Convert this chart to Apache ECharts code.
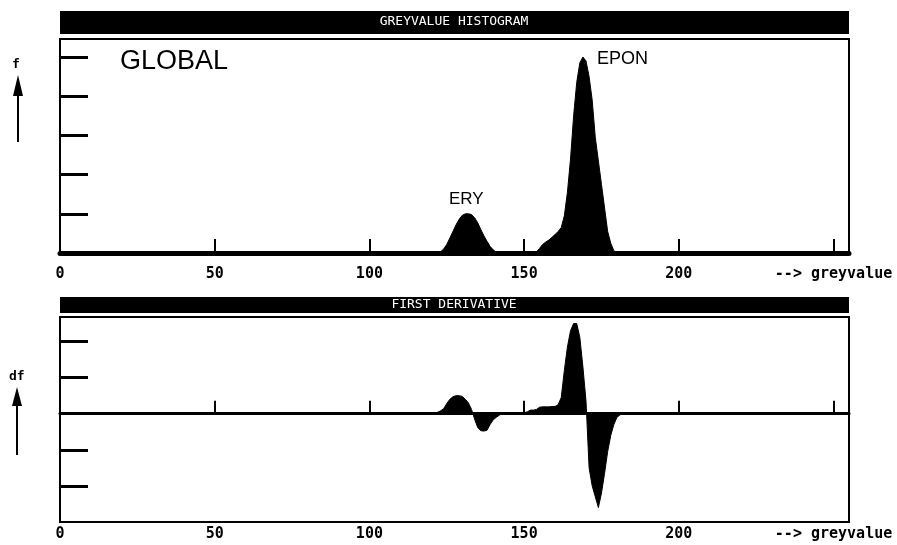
<!DOCTYPE html>
<html>
<head>
<meta charset="utf-8">
<script src="https://cdn.jsdelivr.net/npm/echarts@6/dist/echarts.min.js"></script>
<style>
html, body { margin: 0; padding: 0; background: #fff; }
#main { width: 897px; height: 545px; }
</style>
</head>
<body>
<div id="main"></div>
<script>
// grey values run 0..255, everything outside the listed ranges is zero
var greyMax = 255;
var xTicks = [0, 50, 100, 150, 200, 250];
var histTicks = [1, 2, 3, 4, 5];
var derivTicks = [-2, -1, 1, 2];

// greyvalue histogram, starting at grey value 122
var histStart = 122;
var histCounts = [
    0, 0.03, 0.1, 0.22, 0.38, 0.55, 0.72, 0.86, 0.96, 1.0,      // 122-131
    1.0, 0.98, 0.9, 0.77, 0.6, 0.44, 0.3, 0.17, 0.08, 0.02,     // 132-141
    0, 0, 0, 0, 0, 0, 0, 0, 0, 0,                               // 142-151
    0, 0, 0.03, 0.12, 0.22, 0.28, 0.33, 0.4, 0.47, 0.55,        // 152-161
    0.65, 0.95, 1.55, 2.4, 3.5, 4.35, 4.85, 5.0, 4.9, 4.5,      // 162-171
    3.9, 2.95, 2.35, 1.75, 1.15, 0.55, 0.25, 0.06, 0            // 172-180
];

// first derivative, starting at grey value 120
var derivStart = 120;
var derivValues = [
    0, 0, 0.04, 0.08, 0.14, 0.28, 0.4, 0.47, 0.5, 0.5,          // 120-129
    0.48, 0.4, 0.3, 0.12, -0.15, -0.38, -0.47, -0.48, -0.46, -0.3, // 130-139
    -0.17, -0.1, -0.04, 0.02, 0.02, 0.02, 0.02, 0.02, 0.02, 0.03,  // 140-149
    0.03, 0.05, 0.1, 0.1, 0.12, 0.18, 0.19, 0.19, 0.19, 0.2,    // 150-159
    0.2, 0.25, 0.45, 1.2, 1.85, 2.3, 2.5, 2.5, 2.12, 1.3,       // 160-169
    0.35, -1.5, -2.0, -2.3, -2.6, -2.2, -1.65, -1.05, -0.6, -0.3, // 170-179
    -0.1, -0.03, 0                                              // 180-182
];

function fullRange(start, values) {
    var out = [];
    for (var g = 0; g <= greyMax; g++) {
        var i = g - start;
        out.push([g, (i >= 0 && i < values.length) ? values[i] : 0]);
    }
    return out;
}

var mono = 'DejaVu Sans Mono';
var labelStyle = {
    fontFamily: mono,
    fontWeight: 'bold',
    fontSize: 15,
    color: '#000',
    formatter: function (v) {
        if (v === 250) return '--> greyvalue';
        return xTicks.indexOf(v) >= 0 ? String(v) : '';
    }
};

var myChart = echarts.init(document.getElementById('main'));
var option = {
    animation: false,
    backgroundColor: '#fff',
    grid: [
        {left: 60, right: 48, top: 39, height: 214, show: true, borderColor: '#000', borderWidth: 2},
        {left: 60, right: 48, top: 317, height: 205, show: true, borderColor: '#000', borderWidth: 2}
    ],
    xAxis: [
        {
            gridIndex: 0, type: 'value', min: 0, max: greyMax, interval: 50,
            axisLine: {lineStyle: {color: '#000', width: 5}},
            axisTick: {inside: true, length: 14, customValues: xTicks, lineStyle: {color: '#000', width: 2}},
            axisLabel: Object.assign({margin: 14}, labelStyle),
            splitLine: {show: false}
        },
        {
            // zero line of the derivative, ticks pointing up
            gridIndex: 1, type: 'value', position: 'top', min: 0, max: greyMax, interval: 50,
            axisLine: {onZero: true, lineStyle: {color: '#000', width: 3}},
            axisTick: {inside: false, length: 13, customValues: xTicks, lineStyle: {color: '#000', width: 2}},
            axisLabel: {show: false},
            splitLine: {show: false}
        },
        {
            gridIndex: 1, type: 'value', position: 'bottom', min: 0, max: greyMax, interval: 50,
            axisLine: {show: false, onZero: false},
            axisTick: {show: false},
            axisLabel: Object.assign({margin: 5}, labelStyle),
            splitLine: {show: false}
        }
    ],
    yAxis: [
        {
            gridIndex: 0, type: 'value', min: 0, max: 5.46, interval: 1,
            axisLine: {show: true, lineStyle: {color: '#000', width: 2}},
            axisTick: {inside: true, length: 28, customValues: histTicks, lineStyle: {color: '#000', width: 3}},
            axisLabel: {show: false},
            splitLine: {show: false}
        },
        {
            gridIndex: 1, type: 'value', min: -3, max: 2.68, interval: 1,
            axisLine: {show: true, lineStyle: {color: '#000', width: 2}},
            axisTick: {inside: true, length: 28, customValues: derivTicks, lineStyle: {color: '#000', width: 3}},
            axisLabel: {show: false},
            splitLine: {show: false}
        }
    ],
    series: [
        {
            name: 'histogram', type: 'line', xAxisIndex: 0, yAxisIndex: 0,
            data: fullRange(histStart, histCounts),
            symbol: 'none', silent: true,
            lineStyle: {color: '#000', width: 1},
            areaStyle: {color: '#000', opacity: 1}
        },
        {
            name: 'first derivative', type: 'line', xAxisIndex: 1, yAxisIndex: 1,
            data: fullRange(derivStart, derivValues),
            symbol: 'none', silent: true,
            lineStyle: {color: '#000', width: 1},
            areaStyle: {color: '#000', opacity: 1}
        }
    ],
    graphic: [
        {type: 'rect', shape: {x: 60, y: 11, width: 789, height: 23}, style: {fill: '#000'}},
        {type: 'text', x: 454, y: 22, style: {text: 'GREYVALUE HISTOGRAM', fill: '#fff', font: '13px "DejaVu Sans Mono"', align: 'center', verticalAlign: 'middle'}},
        {type: 'rect', shape: {x: 60, y: 297, width: 789, height: 16}, style: {fill: '#000'}},
        {type: 'text', x: 454, y: 305, style: {text: 'FIRST DERIVATIVE', fill: '#fff', font: '13px "DejaVu Sans Mono"', align: 'center', verticalAlign: 'middle'}},
        {type: 'text', x: 120, y: 48, style: {text: 'GLOBAL', fill: '#000', font: '27px "Liberation Sans"'}},
        {type: 'text', x: 449, y: 191, style: {text: 'ERY', fill: '#000', font: '17px "Liberation Sans"'}},
        {type: 'text', x: 597, y: 50, style: {text: 'EPON', fill: '#000', font: '18px "Liberation Sans"'}},
        {type: 'text', x: 12, y: 58, style: {text: 'f', fill: '#000', font: 'bold 13px "DejaVu Sans Mono"'}},
        {type: 'polygon', shape: {points: [[18, 75], [13, 96], [23, 96]]}, style: {fill: '#000'}},
        {type: 'line', shape: {x1: 18, y1: 95, x2: 18, y2: 142}, style: {stroke: '#000', lineWidth: 2}},
        {type: 'text', x: 9, y: 370, style: {text: 'df', fill: '#000', font: 'bold 13px "DejaVu Sans Mono"'}},
        {type: 'polygon', shape: {points: [[17, 387], [12, 406], [22, 406]]}, style: {fill: '#000'}},
        {type: 'line', shape: {x1: 17, y1: 405, x2: 17, y2: 455}, style: {stroke: '#000', lineWidth: 2}}
    ]
};
myChart.setOption(option);
</script>
</body>
</html>
